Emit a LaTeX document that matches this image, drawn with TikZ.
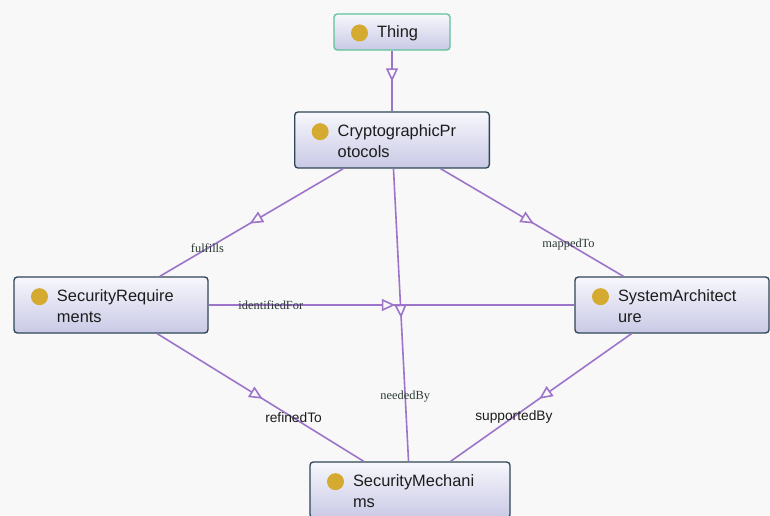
\documentclass[tikz,border=0pt]{standalone}
\usepackage{fontspec}
\setmainfont{Liberation Sans}
\newfontfamily\relserif{Liberation Serif}
\usepackage{xcolor}
\usepackage{tikz}
\usetikzlibrary{arrows.meta,decorations.markings}
\definecolor{cBg}{HTML}{F8F8F8}
\definecolor{cSlate}{HTML}{2E4656}
\definecolor{cGreen}{HTML}{5CC39A}
\definecolor{cTop}{HTML}{F7F7FC}
\definecolor{cBot}{HTML}{C9C9E6}
\definecolor{cGold}{HTML}{D4AA30}
\definecolor{cEdge}{HTML}{9C74C9}
\definecolor{cInk}{HTML}{1C1C1C}
\definecolor{cLbl}{HTML}{2B3A33}
\tikzset{
  cls/.style={draw=#1,top color=cTop,bottom color=cBot,rounded corners=2.5pt,line width=1pt,
    minimum width=146pt,text width=120.5pt,align=left,inner xsep=12.75pt,inner ysep=0pt,
    text height=18.5pt,text depth=23.5pt,font=\fontsize{12.3}{15.75}\selectfont,text=cInk},
  cls/.default=cSlate,
  rel/.style={draw=cEdge,line width=1.2pt,postaction={decorate},
    decoration={markings,mark=at position 0.51 with {\arrow{Triangle[length=10pt,width=9pt,fill=cBg]}}}},
  lblser/.style={font=\relserif\fontsize{9.3}{11}\selectfont,text=cLbl,inner sep=1pt},
  lblsans/.style={font=\fontsize{10.3}{12}\selectfont,text=cInk,inner sep=1pt},
}
\newcommand{\clsdot}{\tikz[baseline=-3.75pt]\node[circle,fill=cGold,inner sep=0pt,minimum size=12.75pt]{};\hspace{6.75pt}}
\newcommand{\clsname}[2]{\clsdot\begin{tabular}[t]{@{}l@{}}#1\\#2\end{tabular}}

\begin{document}
\begin{tikzpicture}[x=0.75pt,y=-0.75pt]
  \useasboundingbox[fill=cBg] (0,0) rectangle (770,516);
  % classes
  \node[cls=cGreen,minimum width=87pt,text width=61.5pt,text height=18pt,text depth=9pt] (thing) at (392,32) {\clsdot Thing};
  \node[cls] (crypto)  at (392,140) {\clsname{CryptographicPr}{otocols}};
  \node[cls,minimum width=145.5pt,text width=120pt] (secreq)  at (111,305) {\clsname{SecurityRequire}{ments}};
  \node[cls,minimum width=145.5pt,text width=120pt] (sysarch) at (672,305) {\clsname{SystemArchitect}{ure}};
  \node[cls,minimum width=150pt,text width=124.5pt] (secmech) at (410,490) {\clsname{SecurityMechani}{ms}};
  % relations
  \draw[rel] (thing) -- (crypto);
  \draw[rel] (crypto) -- node[lblser,pos=0.74]{fulfills} (secreq);
  \draw[rel] (crypto) -- node[lblser,pos=0.70]{mappedTo} (sysarch);
  \draw[rel] (secreq) -- node[lblser,pos=0.17]{identifiedFor} (sysarch);
  \draw[rel] (crypto) -- node[lblser,pos=0.78]{neededBy} (secmech);
  \draw[rel] (secreq) -- node[lblsans,pos=0.66]{refinedTo} (secmech);
  \draw[rel] (sysarch) -- node[lblsans,pos=0.65]{supportedBy} (secmech);
\end{tikzpicture}
\end{document}
